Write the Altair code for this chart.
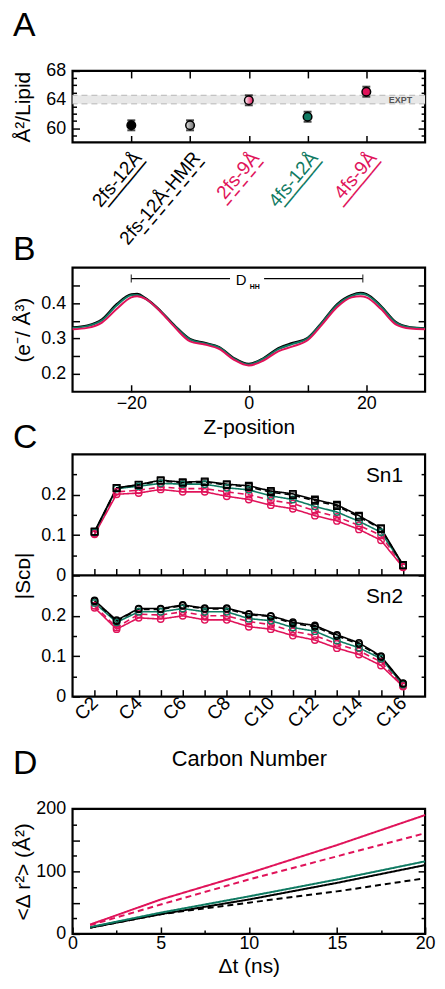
import altair as alt
import pandas as pd

FONT = "Liberation Sans"
RED = "#E0135A"
GREEN = "#0F7A62"
BLACK = "#000000"

# ---------------- data ----------------
systems = ["2fs-12Å", "2fs-12Å-HMR", "2fs-9Å", "4fs-12Å", "4fs-9Å"]
sys_colors = [BLACK, BLACK, RED, GREEN, RED]
sys_dash = [[1, 0], [6, 4], [6, 4], [1, 0], [1, 0]]
underlines = ["————", "– – – – – – – –", "– – – – –", "————", "————"]

# Panel A: area per lipid
area_per_lipid = [60.4, 60.4, 63.9, 61.6, 65.1]
area_err = [0.7, 0.7, 0.7, 0.7, 0.7]
expt_low, expt_high = 63.4, 64.6

# Panel B: electron density profiles
z_position = [-30, -27.5, -25, -22.5, -20, -19, -17.5, -15, -12.5, -10, -7.5, -5, -2.5, 0,
              2.5, 5, 7.5, 10, 12.5, 15, 17.5, 19, 20, 22.5, 25, 27.5, 30]
edp_2fs12 = [0.332, 0.337, 0.354, 0.397, 0.425, 0.426, 0.413, 0.378, 0.335, 0.299, 0.288, 0.276, 0.245, 0.229,
             0.245, 0.273, 0.288, 0.302, 0.347, 0.397, 0.423, 0.429, 0.426, 0.392, 0.347, 0.332, 0.329]
edp_4fs12 = [0.330, 0.335, 0.351, 0.393, 0.422, 0.423, 0.411, 0.376, 0.333, 0.297, 0.286, 0.274, 0.243, 0.227,
             0.243, 0.270, 0.285, 0.300, 0.345, 0.394, 0.420, 0.426, 0.423, 0.390, 0.345, 0.331, 0.328]
edp_4fs9 = [0.326, 0.330, 0.345, 0.383, 0.416, 0.419, 0.411, 0.375, 0.330, 0.292, 0.283, 0.270, 0.240, 0.224,
            0.238, 0.264, 0.278, 0.295, 0.340, 0.388, 0.416, 0.419, 0.416, 0.383, 0.340, 0.328, 0.326]

# Panel C: order parameters, carbons C2..C16
carbon_number = list(range(2, 17))
scd_sn1_2fs12 = [0.109, 0.217, 0.225, 0.236, 0.231, 0.233, 0.226, 0.222, 0.209, 0.202, 0.188, 0.175, 0.148, 0.117, 0.026]
scd_sn1_hmr = [0.108, 0.216, 0.224, 0.234, 0.229, 0.231, 0.224, 0.219, 0.206, 0.199, 0.185, 0.172, 0.145, 0.115, 0.025]
scd_sn1_2fs9 = [0.104, 0.207, 0.211, 0.219, 0.215, 0.215, 0.207, 0.200, 0.186, 0.178, 0.160, 0.145, 0.124, 0.099, 0.022]
scd_sn1_4fs12 = [0.107, 0.215, 0.221, 0.228, 0.226, 0.226, 0.217, 0.212, 0.197, 0.188, 0.171, 0.157, 0.134, 0.107, 0.025]
scd_sn1_4fs9 = [0.102, 0.201, 0.204, 0.213, 0.207, 0.207, 0.196, 0.188, 0.174, 0.165, 0.148, 0.135, 0.114, 0.087, 0.020]
scd_sn2_2fs12 = [0.238, 0.189, 0.218, 0.218, 0.227, 0.219, 0.219, 0.205, 0.200, 0.184, 0.176, 0.153, 0.133, 0.100, 0.033]
scd_sn2_hmr = [0.236, 0.187, 0.216, 0.216, 0.225, 0.217, 0.217, 0.203, 0.198, 0.181, 0.173, 0.150, 0.130, 0.098, 0.032]
scd_sn2_2fs9 = [0.225, 0.171, 0.204, 0.202, 0.210, 0.200, 0.200, 0.186, 0.178, 0.162, 0.151, 0.131, 0.113, 0.086, 0.027]
scd_sn2_4fs12 = [0.232, 0.184, 0.210, 0.210, 0.218, 0.210, 0.210, 0.193, 0.188, 0.171, 0.162, 0.139, 0.121, 0.094, 0.030]
scd_sn2_4fs9 = [0.220, 0.167, 0.195, 0.192, 0.200, 0.190, 0.190, 0.173, 0.167, 0.151, 0.140, 0.120, 0.104, 0.077, 0.025]

# Panel D: mean square displacement
dt_ns = [1, 5, 10, 15, 20]
msd_2fs12 = [10, 31.6, 55, 81.6, 110]
msd_hmr = [10, 31.6, 50, 68, 89]
msd_2fs9 = [14, 47, 87, 124, 161]
msd_4fs12 = [11, 34, 60, 87, 116]
msd_4fs9 = [15, 55, 97, 142, 190]

# ---------------- helpers ----------------
W = 355
color_scale = alt.Scale(domain=systems, range=sys_colors)
dash_scale = alt.Scale(domain=systems, range=sys_dash)


def tax(orient, size, values, labels=False, **kw):
    d = dict(orient=orient, tickSize=size, offset=-size, ticks=True,
             labels=labels, domain=False, grid=False, minExtent=0)
    if values is not None:
        d["values"] = values
    if not labels:
        d["title"] = None
    d.update(kw)
    return alt.Axis(**d)


def axis_only(xs, ys, xdom, ydom, xaxis=None, yaxis=None, xtype="Q"):
    df = pd.DataFrame({"ax": [xdom[0], xdom[-1]], "ay": [ydom[0], ydom[-1]]})
    return alt.Chart(df).mark_point(opacity=0, size=1).encode(
        x=alt.X(f"ax:{xtype}", scale=xs, axis=xaxis),
        y=alt.Y("ay:Q", scale=ys, axis=yaxis),
    )


def spacer(h):
    return alt.Chart(pd.DataFrame({"s": [0]})).mark_point(opacity=0, size=1).encode(
        x=alt.X("s:Q", axis=None), y=alt.Y("s:Q", axis=None)
    ).properties(width=W, height=h, view=alt.ViewBackground(stroke="transparent"))


def grad(c0, c1):
    return alt.Gradient(gradient="linear",
                        stops=[alt.GradientStop(color=c0, offset=0), alt.GradientStop(color=c1, offset=1)],
                        x1=0, x2=1, y1=0, y2=0)


def panel_title(letter, offset):
    return alt.TitleParams(letter, anchor="start", frame="bounds", fontSize=34,
                           fontWeight="normal", font=FONT, offset=offset, color="black")


YEXT = dict(minExtent=38, maxExtent=38, titlePadding=8, labelPadding=7)

# ---------------- Panel A ----------------
HA = 72
xA = alt.Scale(type="point", domain=systems, padding=1)
yA_dom = [58, 68]
yA = alt.Scale(domain=yA_dom, nice=False, zero=False)
dfA = pd.DataFrame({"sys": systems, "area": area_per_lipid, "err": area_err, "ul": underlines})
baseA = alt.Chart(dfA).transform_calculate(lo="datum.area - datum.err", hi="datum.area + datum.err")
xNo = alt.X("sys:N", scale=xA, axis=None)

band = alt.Chart(pd.DataFrame({"lo": [expt_low], "hi": [expt_high]})).mark_rect(color="#e8e8e8").encode(
    y=alt.Y("lo:Q", scale=yA, axis=None), y2="hi:Q")
band_edges = alt.Chart(pd.DataFrame({"y": [expt_low, expt_high]})).mark_rule(
    color="#b5b5b5", strokeWidth=1, strokeDash=[6, 4]).encode(y=alt.Y("y:Q", scale=yA, axis=None))
expt_txt = alt.Chart(pd.DataFrame({"y": [(expt_low + expt_high) / 2], "t": ["EXPT"]})).mark_text(
    align="right", baseline="middle", fontSize=9, fontWeight="bold", color="#555555", font=FONT).encode(
    x=alt.value(W - 13), y=alt.Y("y:Q", scale=yA, axis=None), text="t:N")

errbars = baseA.mark_rule(color="black", strokeWidth=2).encode(
    x=alt.X("sys:N", scale=xA, axis=tax("bottom", 7, None)),
    y=alt.Y("lo:Q", scale=yA, axis=tax("left", 7, [60, 64, 68], labels=True, title="Å²/Lipid", **YEXT)),
    y2="hi:Q")
cap_lo = baseA.mark_tick(color="black", thickness=2, size=8).encode(
    x=xNo, y=alt.Y("lo:Q", scale=yA, axis=None))
cap_hi = baseA.mark_tick(color="black", thickness=2, size=8).encode(
    x=xNo, y=alt.Y("hi:Q", scale=yA, axis=None))

fillsA = [BLACK, grad("#e0e0e0", "#707070"), grad("#ffffff", RED), GREEN, RED]
markers = [
    baseA.transform_filter(alt.datum.sys == s).mark_point(
        shape="circle", filled=True, size=75, fill=f, stroke="black", strokeWidth=1.5, opacity=1).encode(
        x=xNo, y=alt.Y("area:Q", scale=yA, axis=None))
    for s, f in zip(systems, fillsA)
]
labelsA = alt.Chart(dfA).mark_text(angle=310, align="right", baseline="top",
                                   fontSize=19, font=FONT, dx=-5, dy=4).encode(
    x=xNo, y=alt.YDatum(58, scale=yA, axis=None), text="sys:N",
    color=alt.Color("sys:N", scale=color_scale, legend=None))
ulA = alt.Chart(dfA).mark_text(angle=310, align="right", baseline="top",
                               fontSize=15, fontWeight="bold", font=FONT, dx=-5, dy=16).encode(
    x=xNo, y=alt.YDatum(58, scale=yA, axis=None), text="ul:N",
    color=alt.Color("sys:N", scale=color_scale, legend=None))

axA = [
    axis_only(xA, yA, systems, yA_dom, xaxis=tax("top", 7, None), yaxis=tax("left", 4, [59, 61, 62, 63, 65, 66, 67]), xtype="N"),
    axis_only(xA, yA, systems, yA_dom, yaxis=tax("right", 7, [60, 64, 68]), xtype="N"),
    axis_only(xA, yA, systems, yA_dom, yaxis=tax("right", 4, [59, 61, 62, 63, 65, 66, 67]), xtype="N"),
]
pA = alt.layer(band, band_edges, expt_txt, errbars, cap_lo, cap_hi, *markers, labelsA, ulA, *axA).resolve_axis(
    x="independent", y="independent").properties(width=W, height=HA, title=panel_title("A", 19))

# ---------------- Panel B ----------------
HB = 125
xB_dom = [-30, 30]
yB_dom = [0.15, 0.5]
xB = alt.Scale(domain=xB_dom, nice=False, zero=False)
yB = alt.Scale(domain=yB_dom, nice=False, zero=False)
dfB = pd.concat([pd.DataFrame({"z": z_position, "edp": v, "sys": s}) for s, v in
                 [("2fs-12Å", edp_2fs12), ("4fs-12Å", edp_4fs12), ("4fs-9Å", edp_4fs9)]])
linesB = alt.Chart(dfB).mark_line(strokeWidth=2, interpolate="monotone").encode(
    x=alt.X("z:Q", scale=xB, axis=tax("bottom", 7, [-20, -10, 0, 10, 20], labels=True, title="Z-position",
                                      labelExpr="datum.value % 20 === 0 ? datum.label : ''",
                                      labelPadding=3, titlePadding=4)),
    y=alt.Y("edp:Q", scale=yB, axis=tax("left", 7, [0.2, 0.3, 0.4], labels=True, title="(e⁻/ Å³)",
                                        format=".1f", **YEXT)),
    color=alt.Color("sys:N", scale=color_scale, legend=None),
    detail="sys:N")
dhh_df = pd.DataFrame({"x1": [-20, 2.6], "x2": [-3.2, 19.4], "y": [0.469, 0.469]})
dhh_lines = alt.Chart(dhh_df).mark_rule(color="black", strokeWidth=1.3).encode(
    x=alt.X("x1:Q", scale=xB, axis=None), x2="x2:Q", y=alt.Y("y:Q", scale=yB, axis=None))
dhh_caps = alt.Chart(pd.DataFrame({"x": [-20, 19.4], "y": [0.469, 0.469]})).mark_tick(
    orient="vertical", color="black", thickness=1.3, size=8).encode(
    x=alt.X("x:Q", scale=xB, axis=None), y=alt.Y("y:Q", scale=yB, axis=None))
dhh_D = alt.Chart(pd.DataFrame({"x": [-1.3], "y": [0.465], "t": ["D"]})).mark_text(
    fontSize=15, font=FONT, align="center", baseline="middle").encode(
    x=alt.X("x:Q", scale=xB, axis=None), y=alt.Y("y:Q", scale=yB, axis=None), text="t:N")
dhh_H = alt.Chart(pd.DataFrame({"x": [1.0], "y": [0.446], "t": ["HH"]})).mark_text(
    fontSize=7, fontWeight="bold", font=FONT, align="center", baseline="middle").encode(
    x=alt.X("x:Q", scale=xB, axis=None), y=alt.Y("y:Q", scale=yB, axis=None), text="t:N")
axB = [
    axis_only(xB, yB, xB_dom, yB_dom, yaxis=tax("left", 7, [0.25, 0.35, 0.45])),
    axis_only(xB, yB, xB_dom, yB_dom, yaxis=tax("right", 7, [0.2, 0.25, 0.3, 0.35, 0.4, 0.45])),
]
pB = alt.layer(linesB, dhh_lines, dhh_caps, dhh_D, dhh_H, *axB).resolve_axis(
    x="independent", y="independent").properties(width=W, height=HB, title=panel_title("B", 0))

# ---------------- Panel C ----------------
HC = 244
xC_dom = [1, 17]
yC_dom = [0, 0.6]
xC = alt.Scale(domain=xC_dom, nice=False, zero=False)
yC = alt.Scale(domain=yC_dom, nice=False, zero=False)
seriesC = [
    ("4fs-9Å", scd_sn1_4fs9, scd_sn2_4fs9),
    ("2fs-9Å", scd_sn1_2fs9, scd_sn2_2fs9),
    ("4fs-12Å", scd_sn1_4fs12, scd_sn2_4fs12),
    ("2fs-12Å-HMR", scd_sn1_hmr, scd_sn2_hmr),
    ("2fs-12Å", scd_sn1_2fs12, scd_sn2_2fs12),
]
dfC = pd.concat(
    [pd.DataFrame({"sys": s, "chain": "Sn1", "carbon": carbon_number, "scd": a}) for s, a, b in seriesC]
    + [pd.DataFrame({"sys": s, "chain": "Sn2", "carbon": carbon_number, "scd": b}) for s, a, b in seriesC])
baseC = alt.Chart(dfC).transform_calculate(
    yp="datum.chain === 'Sn1' ? datum.scd + 0.3 : datum.scd",
    mk="datum.chain === 'Sn1' && (datum.sys === '2fs-12Å' || datum.sys === '2fs-12Å-HMR') ? 'square' : 'circle'",
    grp="datum.sys + datum.chain")
linesC = baseC.mark_line(strokeWidth=1.6).encode(
    x=alt.X("carbon:Q", scale=xC, axis=tax("bottom", 7, list(range(2, 17)), labels=True, title="Carbon Number",
                                           labelExpr="datum.value % 2 === 0 ? 'C' + datum.value : ''",
                                           labelAngle=315, labelAlign="right", labelBaseline="middle",
                                           labelFontSize=19, labelPadding=3, titlePadding=18, titleFontSize=22)),
    y=alt.Y("yp:Q", scale=yC, axis=tax("left", 7, [0, 0.1, 0.2, 0.3, 0.4, 0.5], labels=True, title="|Sᴄᴅ|",
                                       labelExpr="datum.value > 0.29 ? format(datum.value - 0.3, '.1~f') : format(datum.value, '.1~f')",
                                       **YEXT)),
    color=alt.Color("sys:N", scale=color_scale, legend=None),
    strokeDash=alt.StrokeDash("sys:N", scale=dash_scale, legend=None),
    detail="grp:N")
pointsC = baseC.mark_point(filled=False, size=42, strokeWidth=1.4, opacity=1).encode(
    x=alt.X("carbon:Q", scale=xC, axis=None),
    y=alt.Y("yp:Q", scale=yC, axis=None),
    color=alt.Color("sys:N", scale=color_scale, legend=None),
    shape=alt.Shape("mk:N", scale=alt.Scale(domain=["circle", "square"], range=["circle", "square"]), legend=None))
sepC = alt.Chart(pd.DataFrame({"y": [0.3]})).mark_rule(color="black", strokeWidth=2.2).encode(
    y=alt.Y("y:Q", scale=yC, axis=None))
snC = alt.Chart(pd.DataFrame({"x": [16, 16], "y": [0.546, 0.246], "t": ["Sn1", "Sn2"]})).mark_text(
    align="right", baseline="middle", fontSize=21, font=FONT).encode(
    x=alt.X("x:Q", scale=xC, axis=None), y=alt.Y("y:Q", scale=yC, axis=None), text="t:N")
minorC = [0.05, 0.15, 0.25, 0.35, 0.45, 0.55]
axC = [
    axis_only(xC, yC, xC_dom, yC_dom, yaxis=tax("left", 4, minorC),
              xaxis=tax("bottom", 7, list(range(2, 17)), offset=-(HC / 2 + 7))),
    axis_only(xC, yC, xC_dom, yC_dom, yaxis=tax("right", 7, [0.1, 0.2, 0.3, 0.4, 0.5])),
    axis_only(xC, yC, xC_dom, yC_dom, yaxis=tax("right", 4, minorC)),
]
pC = alt.layer(linesC, pointsC, sepC, snC, *axC).resolve_axis(
    x="independent", y="independent").properties(width=W, height=HC, title=panel_title("C", -1))

# ---------------- Panel D ----------------
HD = 126
xD_dom = [0, 20]
yD_dom = [0, 200]
xD = alt.Scale(domain=xD_dom, nice=False, zero=False)
yD = alt.Scale(domain=yD_dom, nice=False, zero=False)
dfD = pd.concat([pd.DataFrame({"t": dt_ns, "msd": v, "sys": s}) for s, v in
                 [("2fs-12Å-HMR", msd_hmr), ("2fs-12Å", msd_2fs12), ("4fs-12Å", msd_4fs12),
                  ("2fs-9Å", msd_2fs9), ("4fs-9Å", msd_4fs9)]])
linesD = alt.Chart(dfD).mark_line(strokeWidth=2).encode(
    x=alt.X("t:Q", scale=xD, axis=tax("bottom", 7, [0, 5, 10, 15, 20], labels=True, title="Δt (ns)",
                                      labelPadding=1, titlePadding=3)),
    y=alt.Y("msd:Q", scale=yD, axis=tax("left", 7, [0, 50, 100, 150, 200], labels=True, title="<Δ r²> (Å²)",
                                        labelExpr="datum.value % 100 === 0 ? datum.label : ''", **YEXT)),
    color=alt.Color("sys:N", scale=color_scale, legend=None),
    strokeDash=alt.StrokeDash("sys:N", scale=dash_scale, legend=None))
minorDy = [25, 75, 125, 175]
axD = [
    axis_only(xD, yD, xD_dom, yD_dom, yaxis=tax("left", 4, minorDy), xaxis=tax("bottom", 4, [2.5, 7.5, 12.5, 17.5])),
    axis_only(xD, yD, xD_dom, yD_dom, yaxis=tax("right", 7, [50, 100, 150])),
    axis_only(xD, yD, xD_dom, yD_dom, yaxis=tax("right", 4, minorDy)),
]
pD = alt.layer(linesD, *axD).resolve_axis(
    x="independent", y="independent").properties(width=W, height=HD, title=panel_title("D", 19))

chart = alt.vconcat(pA, spacer(126), pB, spacer(63), pC, spacer(113), pD, spacing=0, bounds="flush").properties(
    padding={"left": 3, "top": -4, "right": 0, "bottom": 0}
).configure(font=FONT).configure_view(stroke="black", strokeWidth=2.2).configure_axis(
    labelFont=FONT, titleFont=FONT, labelFontSize=18, titleFontSize=21, titleFontWeight="normal",
    labelColor="black", titleColor="black", tickColor="black", tickWidth=1.5,
    domain=False, grid=False, labelFlush=False, labelOverlap=False
).configure_text(font=FONT)

chart.save("out.html", embed_options={"renderer": "svg", "actions": False})
